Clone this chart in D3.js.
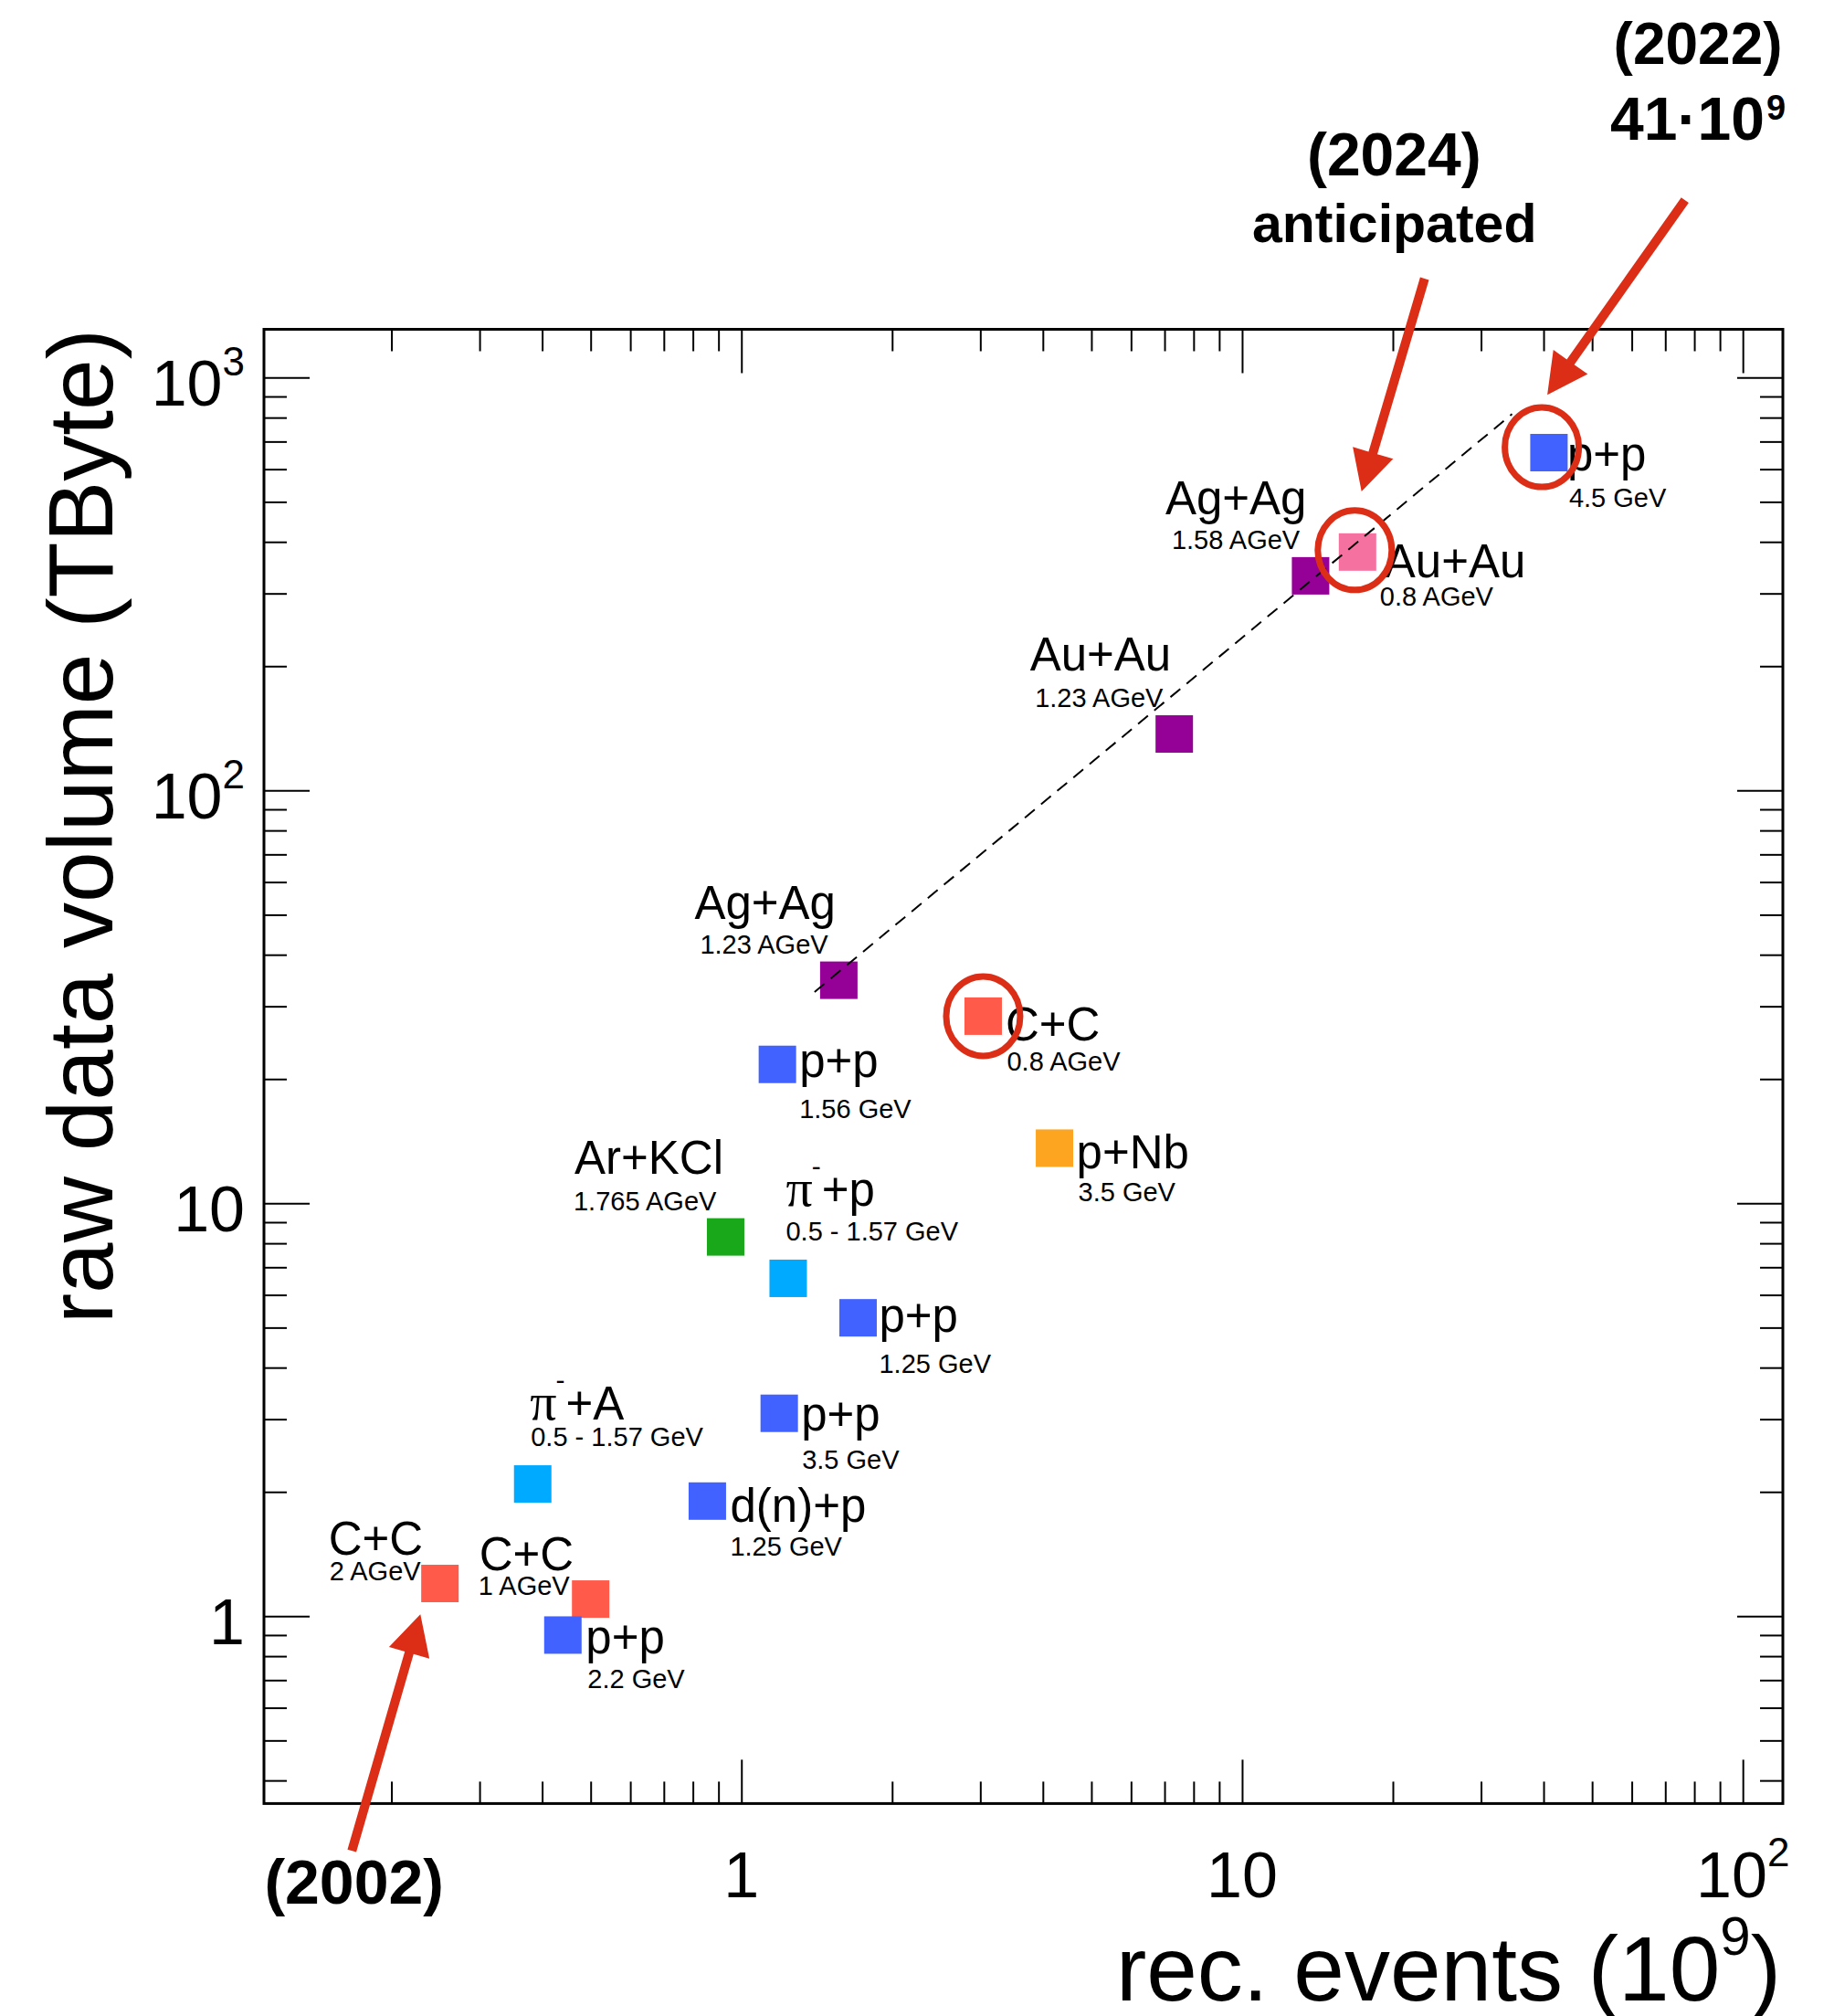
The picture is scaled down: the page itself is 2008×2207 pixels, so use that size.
<!DOCTYPE html>
<html>
<head>
<meta charset="utf-8">
<script src="https://cdn.jsdelivr.net/npm/d3@7"></script>
<style>
  html, body { margin: 0; padding: 0; background: #fff; }
  svg { display: block; }
  text { font-family: "Liberation Sans", Arial, Helvetica, sans-serif; fill: #000; }
</style>
</head>
<body>
<svg id="chart" width="2008" height="2207"></svg>
<script>
// HADES beam times: reconstructed events (10^9) against raw data volume (TByte)

// ---- data ----
const systems  = ["C+C", "C+C", "p+p", "π-+A", "d(n)+p", "p+p", "p+p", "π-+p", "Ar+KCl",
                  "p+Nb", "p+p", "C+C", "Ag+Ag", "Au+Au", "Ag+Ag", "Au+Au", "p+p"];
const energies = ["2 AGeV", "1 AGeV", "2.2 GeV", "0.5 - 1.57 GeV", "1.25 GeV", "3.5 GeV", "1.25 GeV",
                  "0.5 - 1.57 GeV", "1.765 AGeV", "3.5 GeV", "1.56 GeV", "0.8 AGeV", "1.23 AGeV",
                  "1.23 AGeV", "1.58 AGeV", "0.8 AGeV", "4.5 GeV"];
const events   = [0.25, 0.50, 0.44, 0.383, 0.855, 1.19, 1.71, 1.24, 0.93,
                  4.22, 1.18, 3.04, 1.565, 7.32, 13.7, 17.0, 41];          // 10^9 events
const volumes  = [1.20, 1.10, 0.90, 2.09, 1.90, 3.10, 5.28, 6.58, 8.29,
                  13.6, 21.7, 28.4, 34.7, 137, 331, 378, 658];           // TByte
const species  = ["CC", "CC", "pp", "pion", "pp", "pp", "pp", "pion", "ArKCl",
                  "pNb", "pp", "CC", "heavy", "heavy", "heavy", "planned", "pp"];

// scaling trend (dashed)
const trendEvents  = [1.40, 34.6];
const trendVolumes = [32.5, 816];

// axis ticks
const xTickValues = [1, 10, 100];
const xTickLabels = [["1", ""], ["10", ""], ["10", "2"]];
const yTickValues = [1, 10, 100, 1000];
const yTickLabels = [["1", ""], ["10", ""], ["10", "2"], ["10", "3"]];

// highlighted runs and their notes
const ringed = [11, 15, 16];
const notes  = [["(2002)"], ["(2024)", "anticipated"], ["(2022)", "41·10|9"]];
const notePoint = [0, 15, 16];

// ---- layout ----
const frame = { left: 289, right: 1952, top: 360.5, bottom: 1974.4 };
const MARK = 41;
const colours = {
  CC: "#ff5a4a", pp: "#4262ff", pion: "#00aaff", ArKCl: "#19a819",
  pNb: "#fda520", heavy: "#950096", planned: "#f5719f"
};
const RED = "#dc2d16";

// label offsets from marker centre: [main dx, main dy, sub dx, sub dy]
const labelOffsets = [
  [-122, -31.6, -121, -3.3],
  [-122, -32, -123, -4.3],
  [25, 20, 27, 58],
  [-3, -71, -2, -42],
  [25, 23, 25, 60],
  [24, 19, 25, 60.5],
  [23, 15.5, 23, 60],
  [-2.5, -79, -2.5, -41],
  [-165.4, -69, -166.5, -29],
  [24, 22.4, 26, 58.5],
  [24, 14, 24, 59],
  [24.5, 26.3, 26, 59.5],
  [-158, -67, -152, -28.6],
  [-158, -70, -152.5, -29.3],
  [-159, -67, -152, -29.6],
  [29.5, 28, 24.5, 59],
  [20, 19.7, 22, 59.7]
];
const ringOffsets = [[0, 0], [-3, -2], [-7.8, -6]];
// arrows: tail / tip offsets from the marker; note lines: dx, dy, size, anchor
const noteLayout = [
  { tail: [-96.4, 292.7], tip: [-21.4, 33.7],
    lines: [{ dx: -94, dy: 351, size: 68, anchor: "middle" }] },
  { tail: [73.4, -299.3], tip: [4.4, -66.3],
    lines: [{ dx: 40, dy: -412.6, size: 66, anchor: "middle" },
            { dx: 40.4, dy: -339.3, size: 59, anchor: "middle" }] },
  { tail: [148.9, -276.3], tip: [-1.8, -63.3],
    lines: [{ dx: 163.2, dy: -425.3, size: 64, anchor: "middle" },
            { dx: 67.2, dy: -342.3, size: 66, anchor: "start" }] }
];

const x = d3.scaleLog().domain([0.1113, 120.2]).range([frame.left, frame.right]);
const y = d3.scaleLog().domain([0.3517, 1309]).range([frame.bottom, frame.top]);

const svg = d3.select("#chart");
svg.append("rect").attr("width", 2008).attr("height", 2207).attr("fill", "#fff");

// ---- ticks ----
function minorTicks(scale) {
  const [a, b] = scale.domain();
  const out = [];
  for (let e = -2; e <= 4; e++) {
    for (let k = 2; k <= 9; k++) {
      const v = k * Math.pow(10, e);
      if (v > a && v < b) out.push(v);
    }
  }
  return out;
}
function drawTicks(gen, tx, ty, values, len) {
  svg.append("g")
    .attr("transform", `translate(${tx},${ty})`)
    .call(gen.tickValues(values).tickSize(-len).tickSizeOuter(0).tickFormat(""))
    .call(g => g.select(".domain").remove())
    .call(g => g.selectAll("text").remove())
    .selectAll("line").attr("stroke", "#000").attr("stroke-width", 2);
}
const xm = minorTicks(x), ym = minorTicks(y);
drawTicks(d3.axisBottom(x), 0, frame.bottom, xTickValues, 48);
drawTicks(d3.axisBottom(x), 0, frame.bottom, xm, 24);
drawTicks(d3.axisTop(x), 0, frame.top, xTickValues, 48);
drawTicks(d3.axisTop(x), 0, frame.top, xm, 24);
drawTicks(d3.axisLeft(y), frame.left, 0, yTickValues, 50);
drawTicks(d3.axisLeft(y), frame.left, 0, ym, 25);
drawTicks(d3.axisRight(y), frame.right, 0, yTickValues, 50);
drawTicks(d3.axisRight(y), frame.right, 0, ym, 25);

svg.append("rect")
  .attr("x", frame.left).attr("y", frame.top)
  .attr("width", frame.right - frame.left).attr("height", frame.bottom - frame.top)
  .attr("fill", "none").attr("stroke", "#000").attr("stroke-width", 3);

// ---- tick labels ----
function powerLabel(sel, base, exp, supSize, rise) {
  sel.append("tspan").text(base);
  if (exp) sel.append("tspan").attr("font-size", supSize).attr("dy", -rise).text(exp);
}
yTickValues.forEach((v, i) => {
  const t = svg.append("text")
    .attr("x", 268).attr("y", y(v) + 31)
    .attr("text-anchor", "end").attr("font-size", 70);
  powerLabel(t, yTickLabels[i][0], yTickLabels[i][1], 44, 33);
});
xTickValues.forEach((v, i) => {
  const t = svg.append("text")
    .attr("x", x(v)).attr("y", 2077)
    .attr("text-anchor", "middle").attr("font-size", 70);
  powerLabel(t, xTickLabels[i][0], xTickLabels[i][1], 44, 34);
});

// ---- axis titles ----
const xt = svg.append("text")
  .attr("x", 1950).attr("y", 2190)
  .attr("text-anchor", "end").attr("font-size", 100);
xt.append("tspan").text("rec. events (10");
xt.append("tspan").attr("font-size", 60).attr("dy", -50).text("9");
xt.append("tspan").attr("dy", 50).text(")");

svg.append("text")
  .attr("transform", "translate(123,360) rotate(-90)")
  .attr("text-anchor", "end").attr("font-size", 100)
  .text("raw data volume (TByte)");

// ---- point labels ----
const labels = svg.append("g");
systems.forEach((s, i) => {
  const cx = x(events[i]), cy = y(volumes[i]);
  const [mdx, mdy, sdx, sdy] = labelOffsets[i];
  const t = labels.append("text").attr("x", cx + mdx).attr("y", cy + mdy).attr("font-size", 51);
  if (s.startsWith("π-")) {
    t.append("tspan").attr("font-family", "'Liberation Serif', 'DejaVu Serif', serif")
      .attr("font-size", 58).text("π");
    t.append("tspan").attr("font-size", 30).attr("dy", -33).attr("dx", -1).text("-");
    t.append("tspan").attr("dy", 33).attr("dx", 1).text(s.slice(2));
  } else {
    t.text(s);
  }
  labels.append("text").attr("x", cx + sdx).attr("y", cy + sdy).attr("font-size", 29).text(energies[i]);
});

// ---- markers ----
svg.append("g").selectAll("rect")
  .data(events.map((e, i) => ({ e, v: volumes[i], s: species[i] })))
  .join("rect")
  .attr("x", d => x(d.e) - MARK / 2)
  .attr("y", d => y(d.v) - MARK / 2)
  .attr("width", MARK).attr("height", MARK)
  .attr("fill", d => colours[d.s]);

// ---- trend line ----
svg.append("path")
  .datum(trendEvents.map((e, i) => [e, trendVolumes[i]]))
  .attr("d", d3.line().x(d => x(d[0])).y(d => y(d[1])))
  .attr("fill", "none").attr("stroke", "#000").attr("stroke-width", 2)
  .attr("stroke-dasharray", "14,9");

// ---- rings ----
ringed.forEach((p, k) => {
  svg.append("ellipse")
    .attr("cx", x(events[p]) + ringOffsets[k][0])
    .attr("cy", y(volumes[p]) + ringOffsets[k][1])
    .attr("rx", 40.5).attr("ry", 43.5)
    .attr("fill", "none").attr("stroke", RED).attr("stroke-width", 7);
});

// ---- arrows and notes ----
function arrowPath(x0, y0, x1, y1, w, L, h) {
  const dx = x1 - x0, dy = y1 - y0, len = Math.hypot(dx, dy);
  const ux = dx / len, uy = dy / len, nx = -uy, ny = ux;
  const bx = x1 - ux * L, by = y1 - uy * L;
  const pts = [[x0 + nx * w, y0 + ny * w], [bx + nx * w, by + ny * w], [bx + nx * h, by + ny * h],
               [x1, y1], [bx - nx * h, by - ny * h], [bx - nx * w, by - ny * w], [x0 - nx * w, y0 - ny * w]];
  return d3.line()(pts) + "Z";
}
notes.forEach((lines, k) => {
  const p = notePoint[k];
  const cx = x(events[p]), cy = y(volumes[p]);
  const lay = noteLayout[k];
  svg.append("path")
    .attr("d", arrowPath(cx + lay.tail[0], cy + lay.tail[1], cx + lay.tip[0], cy + lay.tip[1], 5, 44, 23))
    .attr("fill", RED);
  lines.forEach((str, j) => {
    const l = lay.lines[j];
    const t = svg.append("text")
      .attr("x", cx + l.dx).attr("y", cy + l.dy)
      .attr("text-anchor", l.anchor).attr("font-size", l.size).attr("font-weight", "bold");
    const parts = str.split("|");
    t.append("tspan").text(parts[0]);
    if (parts[1]) t.append("tspan").attr("font-size", 38).attr("dy", -22).attr("dx", 2).text(parts[1]);
  });
});
</script>
</body>
</html>
